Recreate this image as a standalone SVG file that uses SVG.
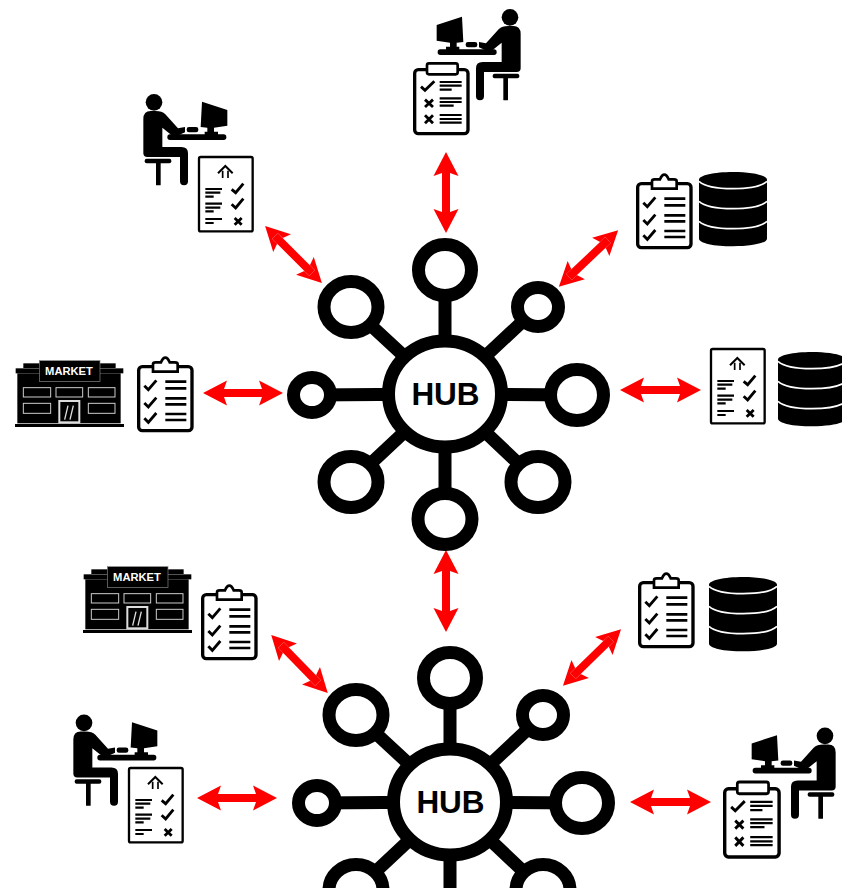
<svg xmlns="http://www.w3.org/2000/svg" xmlns:xlink="http://www.w3.org/1999/xlink" width="842" height="888" viewBox="0 0 842 888">
<style>
.ring{fill:#fff;stroke:#000;stroke-width:13}
.spoke{stroke:#000;stroke-width:13;fill:none}
.hubtext{font-family:"Liberation Sans",Arial,sans-serif;font-weight:700;font-size:31.5px;text-anchor:middle;fill:#000}
.mk{font-family:"Liberation Sans",Arial,sans-serif;font-weight:700;font-size:11.2px;text-anchor:middle;fill:#fff}
.arrow{stroke:#f00;stroke-width:8;fill:none;marker-start:url(#head);marker-end:url(#head)}
.ln{stroke:#000;stroke-width:6.500;fill:none}
.tick{stroke:#000;stroke-width:8.500;fill:none}
.win{fill:#000;stroke:#ccc;stroke-width:3}
</style>
<defs>
<marker id="head" markerUnits="userSpaceOnUse" viewBox="-12 -14 28 28" refX="0" refY="0" markerWidth="28" markerHeight="28" orient="auto-start-reverse">
<path d="M14,0L-10,-12.500L-7,-4L0,-4L0,4L-7,4L-10,12.500Z" fill="#f00"/>
</marker>
<g id="hubart">
<path class="spoke" d="M445,394L445,270M445,394L351,307M445,394L538,307M445,394L312,395M445,394L577,395M445,394L351,482M445,394L538,482M445,394L445,519"/>
<ellipse class="ring" cx="445" cy="394" rx="56.500" ry="53"/>
<ellipse class="ring" cx="445" cy="270" rx="26.500" ry="25.500"/>
<ellipse class="ring" cx="351" cy="307" rx="27" ry="25.500"/>
<ellipse class="ring" cx="538" cy="307" rx="20.500" ry="19.500"/>
<ellipse class="ring" cx="312" cy="395" rx="18.500" ry="17.500"/>
<ellipse class="ring" cx="577" cy="395" rx="26.500" ry="25.500"/>
<ellipse class="ring" cx="351" cy="482" rx="27" ry="25.500"/>
<ellipse class="ring" cx="538" cy="482" rx="27" ry="25.500"/>
<ellipse class="ring" cx="445" cy="519" rx="27" ry="25.500"/>
</g>
<g id="person">
<circle cx="330" cy="52" r="25"/>
<path d="M258,130L296,88Q306,78 325,78L340,78Q362,78 362,102L362,205Q362,216 350,216L255,216L252,216L252,288Q252,301 240,301Q228,301 228,288L228,205Q228,186 248,186L305,186L305,128L278,150Q266,158 250,148L237,142L237,126Z"/>
<rect x="278" y="221" width="80" height="14" rx="6"/>
<rect x="310" y="230" width="14" height="71" rx="2"/>
<rect x="113" y="148" width="177" height="17" rx="8"/>
<path d="M110,75L186,50L190,126L170,128L170,140L178,140L178,150L138,150L138,140L150,140L150,128L110,122Z"/>
<rect x="197" y="126" width="35" height="16" rx="7"/>
</g>
<g id="boardB">
<rect x="5" y="5" width="160" height="192" rx="11" fill="#fff" stroke="#000" stroke-width="10"/>
<path d="M48,20L48,-2Q48,-8 56,-8L72,-8Q78,-22 85,-22Q92,-22 98,-8L114,-8Q122,-8 122,-2L122,20Z" fill="#fff" stroke="#000" stroke-width="8"/>
<path class="tick" d="M22,62L34,74L58,46M22,114L34,126L58,98M22,160L34,172L58,144"/>
<path class="ln" d="M85,50H148M85,70H148M85,100H148M85,118H148M85,147H148M85,165H148" style="stroke-width:8"/>
</g>
<g id="boardA">
<rect x="5" y="5" width="160" height="192" rx="11" fill="#fff" stroke="#000" stroke-width="10"/>
<rect x="42" y="-14" width="92" height="33" rx="6" fill="#fff" stroke="#000" stroke-width="8"/>
<path class="tick" d="M24,56L36,67L64,40M36,95L60,117M60,95L36,117M36,142L60,166M60,142L36,166"/>
<path class="ln" d="M80,42H146M80,53H146M80,65H116M80,91H146M80,102H146M80,113H122M80,141H146M80,153H146M80,164H146"/>
</g>
<g id="page">
<rect x="3" y="3" width="161" height="223" rx="5" fill="#fff" stroke="#000" stroke-width="7"/>
<path d="M60,52L82,30L104,52" class="tick" style="stroke-width:6"/>
<path d="M74,44V66M90,44V66" class="tick" style="stroke-width:5"/>
<path class="tick" d="M101,100L113,110L136,83M101,145L113,156L136,128"/>
<path class="tick" d="M110,186L131,206M131,186L110,206"/>
<path class="ln" d="M22,99H72M22,110H67M22,122H47M22,143H72M22,155H67M22,166H47M22,189H72M22,201H47"/>
</g>
<g id="database">
<path d="M0,23C0,10 45,0 102,0C159,0 204,10 204,23L204,200C204,213 159,223 102,223C45,223 0,213 0,200Z"/>
<path d="M0,28C15,42 55,50 102,50C149,50 189,42 204,28M0,88C15,102 55,110 102,110C149,110 189,102 204,88M0,148C15,162 55,170 102,170C149,170 189,162 204,148" fill="none" stroke="#fff" stroke-width="5"/>
</g>
<g id="market">
<rect x="70" y="55" width="277" height="14"/>
<rect x="47" y="70" width="323" height="15"/>
<rect x="52" y="85" width="310" height="150"/>
<rect x="45" y="237" width="327" height="9"/>
<rect x="118" y="47" width="182" height="63" stroke="#888" stroke-width="2"/>
<rect class="win" x="70" y="128" width="82" height="28"/>
<rect class="win" x="168" y="128" width="80" height="28"/>
<rect class="win" x="265" y="128" width="80" height="28"/>
<rect class="win" x="70" y="175" width="82" height="30"/>
<rect class="win" x="265" y="175" width="80" height="30"/>
<rect x="178" y="168" width="60" height="64" fill="#000" stroke="#ddd" stroke-width="6"/>
<path d="M204,182L194,224M220,182L210,224" stroke="#ddd" stroke-width="4"/>
</g>
</defs>
<rect width="842" height="888" fill="#fff"/>
<g id="connectors">
<line class="arrow" x1="446" y1="166" x2="446" y2="219"/>
<line class="arrow" x1="275" y1="236" x2="312" y2="273"/>
<line class="arrow" x1="608" y1="240" x2="569" y2="277"/>
<line class="arrow" x1="217" y1="393" x2="269" y2="393"/>
<line class="arrow" x1="634" y1="390" x2="687" y2="390"/>
<line class="arrow" x1="446" y1="564" x2="446" y2="618"/>
<line class="arrow" x1="281" y1="645" x2="318" y2="683"/>
<line class="arrow" x1="611" y1="639" x2="573" y2="676"/>
<line class="arrow" x1="211" y1="798" x2="263" y2="798"/>
<line class="arrow" x1="644" y1="802" x2="697" y2="802"/>
</g>
<g id="hub-top"><use href="#hubart"/><text class="hubtext" x="445.500" y="405">HUB</text></g>
<g id="hub-bottom"><use href="#hubart" transform="translate(5,408)"/><text class="hubtext" x="450.500" y="813">HUB</text></g>
<g id="operator-top"><use href="#person" transform="translate(400,0) scale(.3333)"/><use href="#boardA" transform="translate(413,68) scale(.3333)"/></g>
<g id="operator-left"><use href="#person" transform="translate(264,85) scale(-.3333,.3333)"/><use href="#page" transform="translate(198,156) scale(.3333)"/></g>
<g id="store-left"><use href="#market" transform="translate(0,345) scale(.3333)"/><text class="mk" x="69" y="375">MARKET</text><use href="#boardB" transform="translate(137,365) scale(.3333)"/></g>
<g id="data-top"><use href="#boardB" transform="translate(636,182) scale(.3333)"/><use href="#database" transform="translate(699,172) scale(.3333)"/></g>
<g id="data-right"><use href="#page" transform="translate(710,348) scale(.3333)"/><use href="#database" transform="translate(778,352) scale(.3333)"/></g>
<g id="store-bottom"><use href="#market" transform="translate(68,551) scale(.3333)"/><text class="mk" x="137" y="581">MARKET</text><use href="#boardB" transform="translate(201,593) scale(.3333)"/></g>
<g id="data-bottom"><use href="#boardB" transform="translate(638,581) scale(.3333)"/><use href="#database" transform="translate(709,577) scale(.3333)"/></g>
<g id="operator-bottom-left"><use href="#person" transform="translate(194,705.500) scale(-.3333,.3333)"/><use href="#page" transform="translate(128,767) scale(.3333)"/></g>
<g id="operator-bottom-right"><use href="#person" transform="translate(715,718.500) scale(.3333)"/><use href="#boardA" transform="translate(723,787) scale(.34,.355)"/></g>
</svg>
